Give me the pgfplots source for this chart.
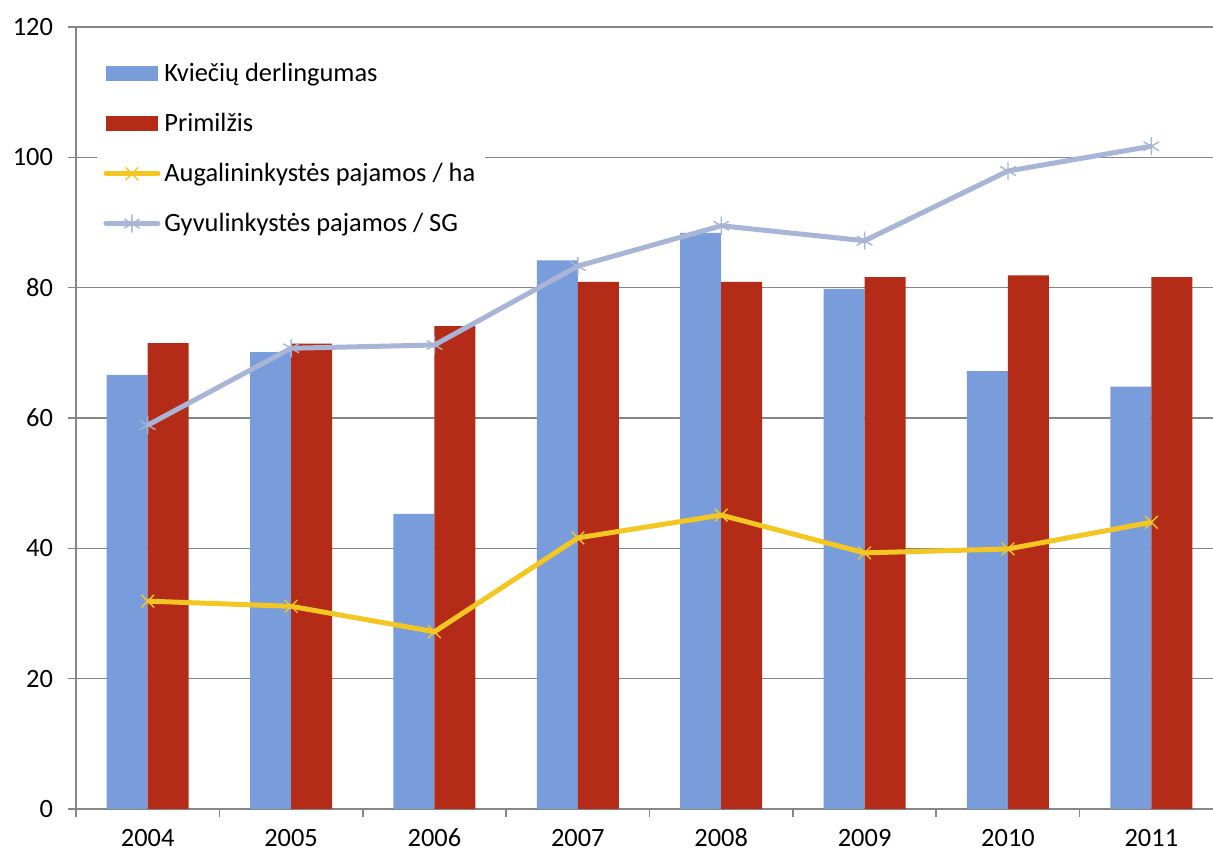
\documentclass[border=0pt]{standalone}
\usepackage{pgfplots}
\pgfplotsset{compat=1.18}
\usepackage{fontspec}
\setmainfont{Carlito}
\definecolor{cblue}{RGB}{121,157,218}
\definecolor{cred}{RGB}{180,43,24}
\definecolor{cyel}{RGB}{244,198,34}
\definecolor{clav}{RGB}{168,181,214}
\definecolor{cgrid}{RGB}{134,134,134}
\begin{document}
\begin{tikzpicture}
\begin{axis}[
  name=ax,
  scale only axis,
  width=568.5pt, height=391pt,
  xmin=-0.5, xmax=7.43,
  ymin=0, ymax=120,
  ytick={0,20,...,120},
  xtick={0,...,7},
  xticklabels={2004,2005,2006,2007,2008,2009,2010,2011},
  minor xtick={-0.5,0.5,...,7.5},
  major x tick style={draw=none},
  minor x tick style={cgrid, line width=0.8pt},
  minor tick length=4pt,
  y tick style={cgrid, line width=0.8pt},
  major tick length=4pt,
  tick align=outside,
  axis lines*=left,
  axis line style={cgrid, line width=0.8pt},
  ymajorgrids,
  grid style={cgrid, line width=0.8pt},
  /pgf/number format/assume math mode=true,
  tick label style={font=\fontsize{13.2}{16}\selectfont},
  xticklabel style={anchor=base, yshift=-14.5pt},
  yticklabel style={xshift=-4pt},
  clip=false,
  legend cell align=left,
  legend style={at={(rel axis cs:0.0185,0.967)}, anchor=north west,
    draw=none, fill=white, font=\fontsize{13.2}{16}\selectfont,
    row sep=10.3pt, inner xsep=3pt, inner ysep=3pt,
    /tikz/every even column/.append style={column sep=2pt}},
]
\addplot[ybar, bar width=20.5pt, bar shift=-10.25pt, fill=cblue, draw=none,
  legend image code/.code={\fill[cblue] (0pt,-3.75pt) rectangle (26pt,3.75pt);}]
  coordinates {(0,66.6) (1,70.1) (2,45.3) (3,84.2) (4,88.4) (5,79.8) (6,67.2) (7,64.8)};
\addlegendentry{Kviečių derlingumas}
\addplot[ybar, bar width=20.5pt, bar shift=10.25pt, fill=cred, draw=none,
  legend image code/.code={\fill[cred] (0pt,-3.75pt) rectangle (26pt,3.75pt);}]
  coordinates {(0,71.5) (1,71.4) (2,74.1) (3,80.9) (4,80.9) (5,81.6) (6,81.9) (7,81.6)};
\addlegendentry{Primilžis}
\addplot[cyel, line width=2.5pt, mark=x, mark size=4.5pt,
  mark options={line width=0.7pt, cyel},
  legend image code/.code={\draw[cyel, line width=2.5pt, line cap=round] (0pt,0pt) -- (26pt,0pt);
    \draw[cyel, line width=0.7pt] plot[mark=x, mark size=4.5pt] coordinates {(13pt,0pt)};}]
  coordinates {(0,31.9) (1,31.1) (2,27.2) (3,41.6) (4,45.1) (5,39.3) (6,39.9) (7,44.0)};
\addlegendentry{Augalininkystės pajamos / ha}
\addplot[clav, line width=2.5pt, mark=asterisk, mark size=4.5pt,
  mark options={line width=0.7pt, clav},
  legend image code/.code={\draw[clav, line width=2.5pt, line cap=round] (0pt,0pt) -- (26pt,0pt);
    \draw[clav, line width=0.7pt] plot[mark=asterisk, mark size=4.5pt] coordinates {(13pt,0pt)};}]
  coordinates {(0,58.9) (1,70.7) (2,71.2) (3,83.3) (4,89.5) (5,87.2) (6,97.9) (7,101.7)};
\addlegendentry{Gyvulinkystės pajamos / SG}
\end{axis}
\pgfresetboundingbox
\path (ax.south west) ++(-38pt,-23pt) rectangle ++(606.5pt,427.5pt);
\end{tikzpicture}
\end{document}
